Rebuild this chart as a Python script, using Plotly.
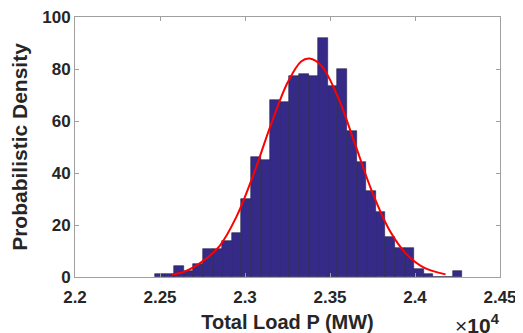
import numpy as np
import plotly.graph_objects as go

# Histogram data (x in units of 1e4 MW)
bin_left = 2.2471
bin_width = 0.005647
density = [1.1, 1.1, 4.1, 2.3, 4.9, 10.9, 10.9, 13.9, 17.0, 30.0,
           46.2, 45.1, 68.2, 67.3, 77.2, 78.1, 77.2, 91.9, 73.3, 80.0,
           56.0, 44.1, 33.2, 25.0, 15.2, 11.1, 11.1, 3.2, 1.1, 0.0,
           0.0, 2.2]

# Fitted curve points
fit_x = [2.257, 2.265, 2.275, 2.285, 2.295, 2.305, 2.315, 2.325, 2.333,
         2.338, 2.345, 2.355, 2.365, 2.375, 2.385, 2.395, 2.405, 2.418]
fit_y = [0.9, 2.2, 6.0, 11.9, 23.2, 39.4, 58.1, 74.7, 82.9,
         84.0, 81.2, 68.7, 50.6, 32.4, 18.0, 8.8, 3.7, 1.0]

x_ticks = [2.2, 2.25, 2.3, 2.35, 2.4, 2.45]
x_ticktext = ["2.2", "2.25", "2.3", "2.35", "2.4", "2.45"]
y_ticks = [0, 20, 40, 60, 80, 100]

centers = bin_left + bin_width * (np.arange(len(density)) + 0.5)

fig = go.Figure()
fig.add_trace(go.Bar(x=centers, y=density, width=bin_width,
                     marker=dict(color="#352a87", line=dict(color="#24244a", width=0.6)),
                     showlegend=False))
fig.add_trace(go.Scatter(x=fit_x, y=fit_y, mode="lines",
                         line=dict(color="#ff0000", width=2, shape="spline"),
                         showlegend=False))

tickfont = dict(family="Liberation Sans", size=17, color="#262626", weight="bold")
titlefont = dict(family="Liberation Sans", size=20, color="#262626", weight="bold")

axis_common = dict(showline=True, linecolor="#a0a0a0", linewidth=1, mirror="ticks",
                   ticks="inside", ticklen=4, tickcolor="#a0a0a0", showgrid=False,
                   zeroline=False, automargin=False, tickfont=tickfont,
                   ticklabeloverflow="allow")

# The page body has an 8px default margin, so the figure is sized to fit the window.
fig.update_layout(
    width=515, height=325,
    margin=dict(l=67, r=23, t=9, b=56, autoexpand=False),
    plot_bgcolor="white", paper_bgcolor="white",
    bargap=0,
    font=dict(family="Liberation Sans", color="#262626"),
    xaxis=dict(range=[2.2, 2.45], tickvals=x_ticks, ticktext=x_ticktext,
               ticklabelstandoff=5,
               title=dict(text="Total Load P (MW)", standoff=9, font=titlefont),
               **axis_common),
    yaxis=dict(range=[0, 100], tickvals=y_ticks,
               title=dict(text="Probabilistic Density", standoff=10,
                          font=dict(family="Liberation Sans", size=21, color="#262626",
                                    weight="bold")),
               **axis_common),
)

fig.add_annotation(text="<span style='font-weight:normal'>×</span>10<sup>4</sup>",
                   xref="paper", yref="paper",
                   x=1.005, y=-0.24, xanchor="right", yanchor="bottom", showarrow=False,
                   font=dict(family="Liberation Sans", size=21, color="#262626", weight="bold"))

fig.write_html("out.html")
